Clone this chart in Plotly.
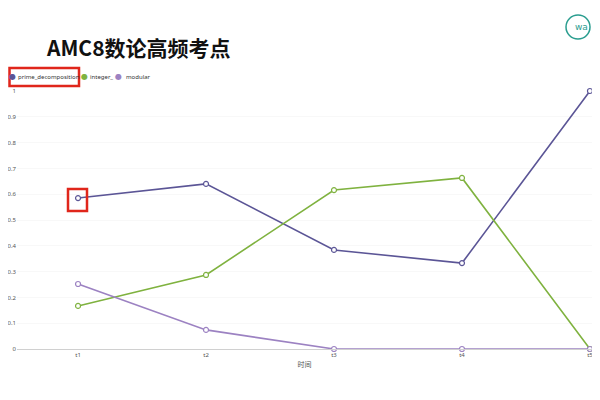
import plotly.graph_objects as go

categories = ["t1", "t2", "t3", "t4", "t5"]
prime_decomposition = [0.585, 0.64, 0.384, 0.333, 1.0]
integer_ = [0.167, 0.287, 0.616, 0.663, 0.0]
modular = [0.252, 0.074, 0.0, 0.0, 0.0]
y_ticks = [0, 0.1, 0.2, 0.3, 0.4, 0.5, 0.6, 0.7, 0.8, 0.9, 1]

series = [
    ("prime_decomposition", prime_decomposition, "#5b5596"),
    ("integer_", integer_, "#7fb23f"),
    ("modular", modular, "#9c82c2"),
]

# the page shows the figure with an 8px offset; plot area on screen: x 17..592, y 91..349
def px(X):
    return (X - 17) / 575

def py(Y):
    return (349 - Y) / 258

fig = go.Figure()
for name, vals, col in series:
    fig.add_trace(go.Scatter(
        x=categories, y=vals, mode="lines+markers", name=name,
        line=dict(color=col, width=1.6),
        marker=dict(symbol="circle", size=5, color="white", line=dict(color=col, width=1.2)),
        showlegend=False, cliponaxis=False))

fig.update_layout(
    width=584, height=384,
    margin=dict(l=9, r=0, t=83, b=43),
    paper_bgcolor="white", plot_bgcolor="white",
    font=dict(family="Noto Sans", color="#555"),
    showlegend=False,
    xaxis=dict(type="category", range=[-0.477, 4.016], showgrid=False, showline=True, automargin=False,
               linecolor="#d0d0d0", linewidth=1, ticks="", tickfont=dict(size=6, color="#555"),
               title=dict(text="时间", font=dict(family="Noto Sans CJK SC", size=7, color="#555"), standoff=3)),
    yaxis=dict(range=[0, 1], tickvals=y_ticks, ticktext=[str(v) for v in y_ticks], automargin=False,
               showgrid=True, gridcolor="#f8f8f8", zeroline=False, showline=False,
               tickfont=dict(size=6, color="#555"), ticklabelstandoff=0),
)

# title
fig.add_annotation(xref="paper", yref="paper", x=px(44), y=py(47), xanchor="left", yanchor="middle",
                   text="<b>AMC8数论高频考点</b>", showarrow=False,
                   font=dict(family="Noto Sans CJK SC", size=21, color="#111"))

# custom compact legend: (marker x, text x, name, colour)
legend_items = [(12, 17, "prime_decomposition", "#5b5596"),
                (84, 89, "integer_", "#7fb23f"),
                (119, 125, "modular", "#9c82c2")]
for mx, tx, name, col in legend_items:
    fig.add_annotation(xref="paper", yref="paper", x=px(mx), y=py(77), xanchor="center", yanchor="middle",
                       text="●", showarrow=False, font=dict(family="DejaVu Sans", size=8, color=col))
    fig.add_annotation(xref="paper", yref="paper", x=px(tx), y=py(77), xanchor="left", yanchor="middle",
                       text=name, showarrow=False, xshift=-1,
                       font=dict(family="Noto Sans", size=6, color="#333"))

# red highlight boxes
fig.add_shape(type="rect", xref="paper", yref="paper",
              x0=px(9.5), x1=px(79), y0=py(86), y1=py(68),
              line=dict(color="#e0261b", width=2.5), fillcolor="rgba(0,0,0,0)")
fig.add_shape(type="rect", xref="paper", yref="paper",
              x0=px(68), x1=px(87), y0=py(211), y1=py(189),
              line=dict(color="#e0261b", width=2.5), fillcolor="rgba(0,0,0,0)")

# logo
fig.add_shape(type="circle", xref="paper", yref="paper",
              x0=px(566), x1=px(590), y0=py(39), y1=py(15),
              line=dict(color="#2a9d8f", width=1.5))
fig.add_annotation(xref="paper", yref="paper", x=px(578), y=py(27), xanchor="center", yanchor="middle",
                   text="wa", showarrow=False, xshift=3,
                   font=dict(size=9, color="#2a9d8f", family="DejaVu Sans"))

fig.write_html("out.html")
